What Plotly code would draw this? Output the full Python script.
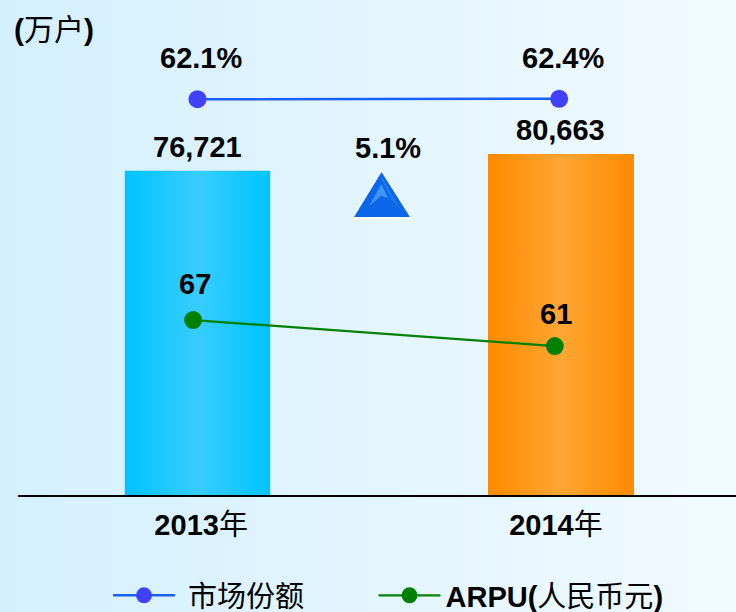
import plotly.graph_objects as go

categories = ["2013", "2014"]
category_suffix = "年"
subs = [76721, 80663]
sub_labels = ["76,721", "80,663"]
share = [62.1, 62.4]
share_labels = ["62.1%", "62.4%"]
arpu = [67, 61]
growth_label = "5.1%"
unit_label = "(</b>万户<b>)"
bar_pos = [0, 1]
tick_pos = [0.01, 0.986]
share_pos = [0, 0.995]
arpu_pos = [-0.012, 0.983]

W, H = 736, 612
L, B = 18, 117
FONT = "Liberation Sans, Arial, Noto Sans CJK SC, sans-serif"
BAR_HW = 0.2

def lerp(a, b, t):
    return tuple(round(a[i] + (b[i] - a[i]) * t) for i in range(3))

shapes = []
N = 46
for i in range(N):
    c = lerp((212, 240, 255), (241, 250, 255), i / (N - 1))
    shapes.append(dict(type="rect", xref="paper", yref="paper", layer="below",
                       x0=-L / (W - L) + i / N * W / (W - L),
                       x1=-L / (W - L) + (i + 1.05) / N * W / (W - L),
                       y0=-B / (H - B), y1=1.0, line_width=0,
                       fillcolor="rgb(%d,%d,%d)" % c))

def px(x):
    return (x - L) / (W - L)
def py(y):
    return (H - B - y) / (H - B)

def path(pts):
    return "M " + " L ".join("%.4f %.4f" % (px(a), py(b)) for a, b in pts) + " Z"

shapes += [
    dict(type="path", xref="paper", yref="paper", path=path([(381.5, 169.5), (413, 219.5), (351, 219.5)]),
         fillcolor="#f4fbff", line_width=0),
    dict(type="path", xref="paper", yref="paper", path=path([(381.5, 172), (410, 217), (354, 217)]),
         fillcolor="#0c66ea", line_width=0),
    dict(type="path", xref="paper", yref="paper", path=path([(381.5, 176), (401, 210), (391, 199), (381.5, 180)]),
         fillcolor="#1b78ee", line_width=0),
    dict(type="path", xref="paper", yref="paper", path=path([(381.5, 184), (388, 198), (381, 196), (369, 206)]),
         fillcolor="#3f97f8", line_width=0),
]

fig = go.Figure()
fig.add_trace(go.Bar(x=bar_pos, y=subs, width=2 * BAR_HW, marker=dict(color=["#00c3ff", "#ff8a00"], line_width=0),
                     showlegend=False, hoverinfo="skip"))
grads = [[[0, "#00c3ff"], [0.5, "#38cdff"], [1, "#00c3ff"]],
         [[0, "#ff8a00"], [0.5, "#ffa634"], [1, "#ff8a00"]]]
for p, v, g in zip(bar_pos, subs, grads):
    fig.add_trace(go.Scatter(x=[p - BAR_HW, p + BAR_HW, p + BAR_HW, p - BAR_HW], y=[0, 0, v, v],
                             mode="none", fill="toself", showlegend=False, hoverinfo="skip",
                             fillgradient=dict(type="horizontal", colorscale=g)))
fig.add_trace(go.Scatter(x=share_pos, y=share, yaxis="y3", mode="lines+markers",
                         name="\u00a0市场份额" + "\u00a0" * 8,
                         line=dict(color="#1a60ff", width=2.5), marker=dict(color="#4040ff", size=18)))
fig.add_trace(go.Scatter(x=arpu_pos, y=arpu, yaxis="y2", mode="lines+markers", name="<b>ARPU(</b>人民币元<b>)</b>",
                         line=dict(color="#008000", width=2.3), marker=dict(color="#008000", size=18)))

def note(x, y, text, ref="y", xs=0, ys=0, size=29):
    return dict(x=x, y=y, xref="x", yref=ref, text="<b>%s</b>" % text, showarrow=False,
                xshift=xs, yshift=ys, font=dict(size=size, color="black", family=FONT))

annots = []
for p, v, t in zip(bar_pos, subs, sub_labels):
    annots.append(note(p, v, t, ys=24, xs=0 if p == 0 else -1))
for p, v, t, xs in zip(share_pos, share, share_labels, [3, 4]):
    annots.append(note(p, v, t, ref="y3", xs=xs, ys=41))
for p, v, t, xs in zip(arpu_pos, arpu, arpu, [2, 1]):
    annots.append(note(p, v, t, ref="y2", xs=xs, ys=36 if p < 0.5 else 32))
annots.append(dict(x=px(387.5), y=py(148), xref="paper", yref="paper", xanchor="center", yanchor="middle",
                   text="<b>%s</b>" % growth_label,
                   showarrow=False, font=dict(size=29, color="black", family=FONT)))
annots.append(dict(x=px(12), y=py(29), xref="paper", yref="paper", xanchor="left", yanchor="middle",
                   text="<b>%s</b>" % unit_label,
                   showarrow=False, font=dict(size=30, color="black", family=FONT)))

fig.update_layout(
    width=W, height=H, autosize=False, margin=dict(l=L, r=0, t=0, b=B),
    paper_bgcolor="#e2f5ff", plot_bgcolor="rgba(0,0,0,0)", shapes=shapes, annotations=annots,
    font=dict(family=FONT, color="black"),
    xaxis=dict(range=[(L - 197.5) / 363.5, (W - 197.5) / 363.5], tickmode="array", tickvals=tick_pos,
               ticktext=["<b>%s</b>%s" % (c, category_suffix) for c in categories], ticks="",
               tickfont=dict(size=29, family=FONT), ticklabelstandoff=3,
               showline=True, linecolor="black", linewidth=2, showgrid=False, zeroline=False, fixedrange=True),
    yaxis=dict(range=[0, 495 / 0.004225], visible=False, showgrid=False, fixedrange=True),
    yaxis2=dict(range=[26.6, 26.6 + 495 / 4.33], overlaying="y", visible=False, showgrid=False),
    yaxis3=dict(range=[-257.75, 142.25], overlaying="y", visible=False, showgrid=False),
    legend=dict(orientation="h", xref="container", yref="container", x=108 / W, y=(H - 570) / H,
                xanchor="left", yanchor="top",
                itemwidth=62, font=dict(size=29, family=FONT), bgcolor="rgba(0,0,0,0)"),
    bargap=0, showlegend=True,
)
fig.write_html("out.html", config=dict(displayModeBar=False),
               post_script="document.body.style.margin='0';document.documentElement.style.overflow='hidden';")
